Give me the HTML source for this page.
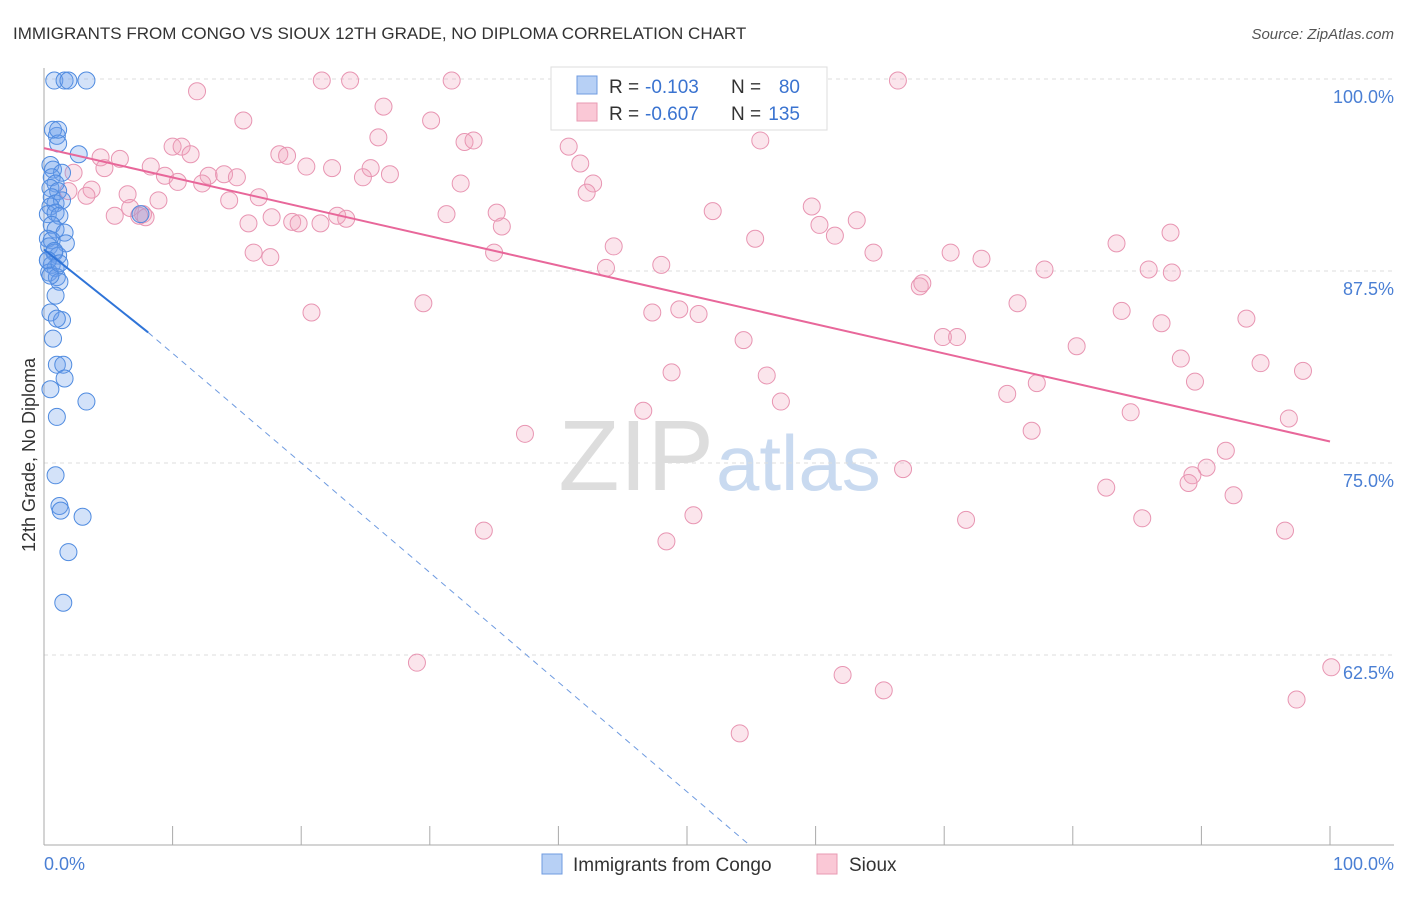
<!DOCTYPE html>
<html><head><meta charset="utf-8"><style>
body{margin:0;background:#fff;font-family:"Liberation Sans",sans-serif;}
svg text{font-family:"Liberation Sans",sans-serif;}
</style></head><body>
<svg id="c" width="1406" height="892" xmlns="http://www.w3.org/2000/svg">
<text x="13" y="39" font-size="17" fill="#333">IMMIGRANTS FROM CONGO VS SIOUX 12TH GRADE, NO DIPLOMA CORRELATION CHART</text>
<text x="1394" y="39" font-size="15" fill="#555" text-anchor="end" font-style="italic">Source: ZipAtlas.com</text>
<text x="714" y="490" font-size="100" fill="#ddd" text-anchor="end" font-family="Liberation Serif">ZIP</text>
<text x="716" y="490" font-size="78" fill="#c9daf0">atlas</text>
<g id="grid"></g>
<g id="pts"></g>
<g id="lines"></g>
<text transform="translate(35,455) rotate(-90)" font-size="18" fill="#333" text-anchor="middle">12th Grade, No Diploma</text>
<text x="44" y="870" font-size="18" fill="#4a7fd4">0.0%</text>
<text x="1394" y="870" font-size="18" fill="#4a7fd4" text-anchor="end">100.0%</text>
<g>
<rect x="551" y="67" width="276" height="63" fill="#fff" stroke="#ddd"/>
<rect x="577" y="76" width="20" height="18" fill="#b7d0f5" stroke="#6f9be0"/>
<rect x="577" y="103" width="20" height="18" fill="#fac8d6" stroke="#e89ab3"/>
<text x="609" y="93" font-size="19" fill="#333">R =</text>
<text x="645" y="93" font-size="19" fill="#3a73d0">-0.103</text>
<text x="731" y="93" font-size="19" fill="#333">N =</text>
<text x="800" y="93" font-size="19" fill="#3a73d0" text-anchor="end">80</text>
<text x="609" y="120" font-size="19" fill="#333">R =</text>
<text x="645" y="120" font-size="19" fill="#3a73d0">-0.607</text>
<text x="731" y="120" font-size="19" fill="#333">N =</text>
<text x="800" y="120" font-size="19" fill="#3a73d0" text-anchor="end">135</text>
</g>
<g>
<rect x="542" y="854" width="20" height="20" fill="#b7d0f5" stroke="#6f9be0"/>
<text x="573" y="871" font-size="19" fill="#333">Immigrants from Congo</text>
<rect x="817" y="854" width="20" height="20" fill="#fac8d6" stroke="#e89ab3"/>
<text x="849" y="871" font-size="19" fill="#333">Sioux</text>
</g>
</svg>
<script>
const yTicks=[100,87.5,75,62.5];
const yTickLabels=["100.0%","87.5%","75.0%","62.5%"];
const xTicks=[0,10,20,30,40,50,60,70,80,90,100];
const congoX=[0.8,1.6,1.9,3.3,1.0,0.7,1.1,2.7,0.5,0.7,1.4,0.6,0.9,0.5,1.1,0.6,0.9,1.4,0.5,0.3,0.9,1.2,7.5,0.6,0.9,1.6,0.3,0.6,1.7,0.4,0.8,1.1,0.3,0.6,0.9,0.4,1.0,1.2,0.9,0.5,1.4,1.0,0.7,1.0,1.5,1.6,0.5,3.3,1.0,0.9,1.2,1.3,3.0,1.9,1.5,1.1,0.8,0.3,0.5,1.2];
const congoY=[99.9,99.9,99.9,99.9,96.3,96.7,95.8,95.1,94.4,94.1,93.9,93.6,93.2,92.9,92.7,92.3,91.9,92.1,91.7,91.2,91.3,91.1,91.2,90.5,90.2,90.0,89.6,89.5,89.3,89.1,88.7,88.5,88.2,87.9,87.7,87.4,87.1,86.8,85.9,84.8,84.3,84.4,83.1,81.4,81.4,80.5,79.8,79.0,78.0,74.2,72.2,71.9,71.5,69.2,65.9,96.7,88.8,88.2,87.2,88.0];
const siouxX=[11.9,21.6,23.8,31.7,45.6,66.4,26.4,15.5,30.1,26.0,32.7,33.4,40.8,55.7,10.0,10.7,11.4,18.3,18.9,5.9,4.4,4.7,8.3,9.4,10.4,12.8,14.0,15.0,20.4,22.4,25.4,24.8,26.9,41.7,2.3,3.7,1.9,3.3,6.5,8.9,6.7,7.7,12.3,14.4,16.7,32.4,42.7,42.2,5.5,7.4,7.9,15.9,17.7,19.3,19.8,21.5,22.8,23.5,31.3,35.2,35.6,52.0,59.7,60.3,61.5,63.2,55.3,44.3,35.0,16.3,17.6,43.7,48.0,64.5,70.5,72.9,77.8,83.4,87.6,85.9,87.7,68.1,68.3,29.5,20.8,47.3,49.4,50.9,75.7,83.8,86.9,93.5,69.9,71.0,54.4,80.3,88.4,94.6,97.9,48.8,56.2,77.2,89.5,74.9,57.3,46.6,84.5,96.8,37.4,76.8,91.9,90.4,89.3,89.0,66.8,82.6,92.5,50.5,71.7,85.4,34.2,96.5,48.4,29.0,100.1,62.1,65.3,97.4,54.1];
const siouxY=[99.2,99.9,99.9,99.9,99.9,99.9,98.2,97.3,97.3,96.2,95.9,96.0,95.6,96.0,95.6,95.6,95.1,95.1,95.0,94.8,94.9,94.2,94.3,93.7,93.3,93.7,93.8,93.6,94.3,94.2,94.2,93.6,93.8,94.5,93.9,92.8,92.7,92.4,92.5,92.1,91.6,91.2,93.2,92.1,92.3,93.2,93.2,92.6,91.1,91.1,91.0,90.6,91.0,90.7,90.6,90.6,91.1,90.9,91.2,91.3,90.4,91.4,91.7,90.5,89.8,90.8,89.6,89.1,88.7,88.7,88.4,87.7,87.9,88.7,88.7,88.3,87.6,89.3,90.0,87.6,87.4,86.5,86.7,85.4,84.8,84.8,85.0,84.7,85.4,84.9,84.1,84.4,83.2,83.2,83.0,82.6,81.8,81.5,81.0,80.9,80.7,80.2,80.3,79.5,79.0,78.4,78.3,77.9,76.9,77.1,75.8,74.7,74.2,73.7,74.6,73.4,72.9,71.6,71.3,71.4,70.6,70.6,69.9,62.0,61.7,61.2,60.2,59.6,57.4];
const siouxTrendX=[0,100], siouxTrendY=[95.5,76.4];
const congoTrendX=[0,8.1], congoTrendY=[88.9,83.5];
const congoDashX=[8.1,54.9], congoDashY=[83.5,50.1];

const X0=44,X1=1330,YTOP=79,PPY=15.36;
const sx=v=>X0+(X1-X0)*v/100;
const sy=v=>YTOP+(100-v)*PPY;
const NS="http://www.w3.org/2000/svg";
function mk(t,a,p){const e=document.createElementNS(NS,t);for(const k in a)e.setAttribute(k,a[k]);p.appendChild(e);return e;}
const grid=document.getElementById('grid');
yTicks.forEach((v,i)=>{
 const l=mk('line',{x1:44,x2:1394,y1:sy(v),y2:sy(v),stroke:'#ddd','stroke-dasharray':'4,4'},grid);
 
 
 const t=mk('text',{x:1394,y:sy(v)+24,'font-size':18,fill:'#4a7fd4','text-anchor':'end'},grid);
 t.textContent=yTickLabels[i];
 
 
});
const ax=mk('line',{x1:44,x2:1394,y1:845,y2:845,stroke:'#aaa'},grid);


const ay=mk('line',{x1:44,x2:44,y1:68,y2:845,stroke:'#aaa'},grid);


xTicks.forEach(v=>{
 const l=mk('line',{x1:sx(v),x2:sx(v),y1:826,y2:845,stroke:'#aaa'},grid);
 
 
});
const pts=document.getElementById('pts');
siouxX.forEach((v,i)=>{
 const c=mk('circle',{cx:sx(v),cy:sy(siouxY[i]),r:8.5,fill:'rgba(242,160,188,0.28)',stroke:'#e895b2','stroke-width':1},pts);
 
 
});
congoX.forEach((v,i)=>{
 const c=mk('circle',{cx:sx(v),cy:sy(congoY[i]),r:8.5,fill:'rgba(110,160,235,0.3)',stroke:'#4f8be0','stroke-width':1},pts);
 
 
});
const lines=document.getElementById('lines');
const l1=mk('line',{x1:sx(siouxTrendX[0]),y1:sy(siouxTrendY[0]),x2:sx(siouxTrendX[1]),y2:sy(siouxTrendY[1]),stroke:'#e8679a','stroke-width':2},lines);


const l2=mk('line',{x1:sx(congoTrendX[0]),y1:sy(congoTrendY[0]),x2:sx(congoTrendX[1]),y2:sy(congoTrendY[1]),stroke:'#2f74d8','stroke-width':2},lines);


const l3=mk('line',{x1:sx(congoDashX[0]),y1:sy(congoDashY[0]),x2:sx(congoDashX[1]),y2:sy(congoDashY[1]),stroke:'#6f9be0','stroke-width':1,'stroke-dasharray':'6,5'},lines);


</script>
</body></html>
